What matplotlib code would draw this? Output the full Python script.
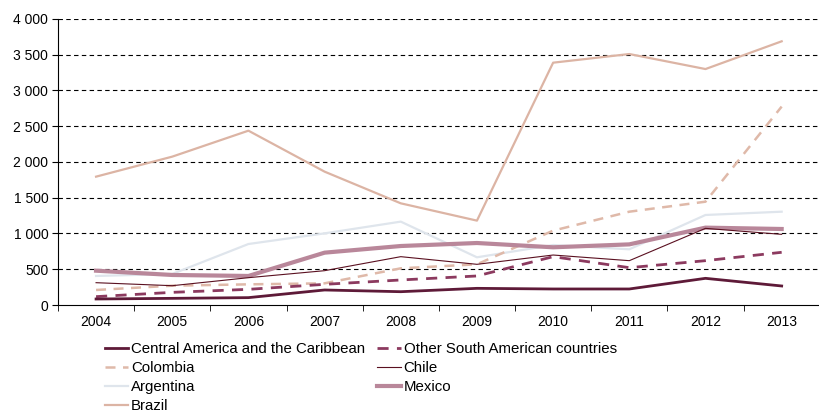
import numpy as np
import matplotlib.pyplot as plt

plt.rcParams['font.family'] = ['Liberation Sans', 'DejaVu Sans']

years = ['2004', '2005', '2006', '2007', '2008', '2009', '2010', '2011', '2012', '2013']

central_america = [84, 93, 103, 210, 186, 233, 224, 224, 373, 266]
other_south = [117, 177, 219, 289, 350, 406, 676, 522, 620, 737]
colombia = [210, 270, 289, 303, 513, 569, 1040, 1305, 1445, 2775]
chile = [312, 270, 382, 480, 676, 569, 699, 620, 1072, 988]
argentina = [406, 434, 853, 1002, 1166, 667, 839, 779, 1259, 1305]
mexico = [480, 420, 406, 732, 825, 867, 807, 848, 1082, 1063]
brazil = [1795, 2075, 2438, 1865, 1422, 1180, 3389, 3510, 3300, 3688]

x = np.arange(len(years))

fig = plt.figure(figsize=(8.2, 4.13), dpi=100)
ax = fig.add_axes([0.0707, 0.2615, 0.929, 0.6925])

# draw order roughly as in the original
l_arg, = ax.plot(x, argentina, color='#dfe5ec', lw=1.6, label='Argentina')
l_bra, = ax.plot(x, brazil, color='#dcb4a4', lw=1.6, label='Brazil')
l_col, = ax.plot(x, colombia, color='#dfb9a9', lw=1.8, ls=(0, (4, 3)), label='Colombia')
l_mex, = ax.plot(x, mexico, color='#b9879a', lw=3.0, label='Mexico')
l_chi, = ax.plot(x, chile, color='#5a1020', lw=0.8, label='Chile')
l_oth, = ax.plot(x, other_south, color='#8c3a5f', lw=2.0, ls=(0, (4, 3)), label='Other South American countries')
l_cen, = ax.plot(x, central_america, color='#5e1a38', lw=2.0, label='Central America and the Caribbean')

ax.set_xlim(-0.5, 9.5)
ax.set_ylim(0, 4000)
ax.set_yticks(np.arange(0, 4001, 500))
ax.set_yticklabels(['0', '500', '1 000', '1 500', '2 000', '2 500', '3 000', '3 500', '4 000'])
for yv in np.arange(500, 4001, 500):
    ax.axhline(yv, color='black', lw=0.8, ls=(0, (4, 3)), zorder=0)

ax.set_xticks(x)
ax.set_xticklabels(years)
ax.set_xticks(np.arange(-0.5, 9.6, 1), minor=True)
ax.tick_params(axis='x', which='major', length=0, pad=7, labelsize=10)
ax.tick_params(axis='x', which='minor', length=4, direction='out')
ax.tick_params(axis='y', length=4, direction='out', labelsize=10, pad=3)

ax.spines['top'].set_visible(False)
ax.spines['right'].set_visible(False)
ax.spines['left'].set_color('black')
ax.spines['bottom'].set_color('black')

handles = [l_cen, l_col, l_arg, l_bra, l_oth, l_chi, l_mex]
fig.legend(handles=handles, labels=[h.get_label() for h in handles], ncol=2,
           loc='upper left', bbox_to_anchor=(0.128, 0.172), frameon=False,
           fontsize=10.8, handlelength=1.55, handletextpad=0.2, columnspacing=0.8,
           labelspacing=0.33, borderaxespad=0, borderpad=0)

fig.savefig('out.png', dpi=100)
